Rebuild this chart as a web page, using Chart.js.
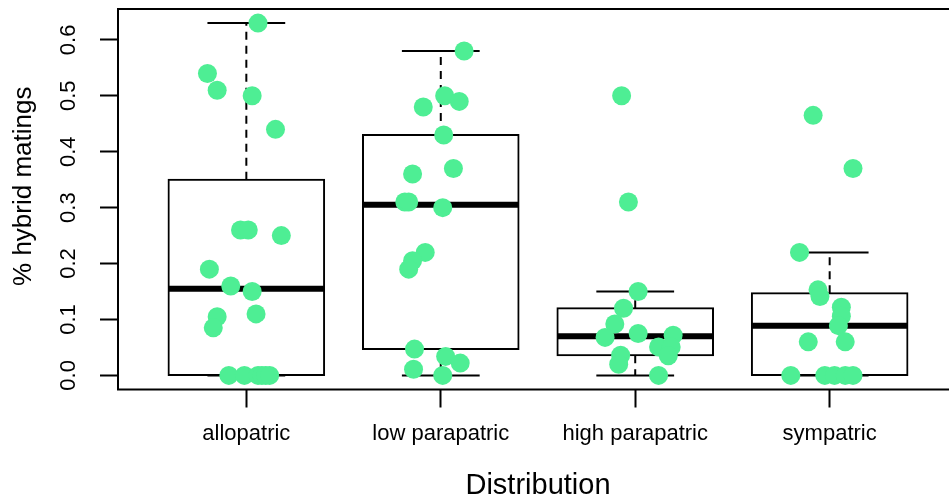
<!DOCTYPE html>
<html>
<head>
<meta charset="utf-8">
<script src="https://cdn.jsdelivr.net/npm/chart.js@4.4.1/dist/chart.umd.min.js"></script>
<style>
  html, body { margin: 0; padding: 0; background: #fff; overflow: hidden; }
  canvas { display: block; }
</style>
</head>
<body>
<canvas id="matingChart" width="960" height="502" style="width:960px;height:502px"></canvas>
<script>
// groups along the x axis
const groups = ['allopatric', 'low parapatric', 'high parapatric', 'sympatric'];

// proportion of hybrid matings per population, one array per group
const allopatric = [0.63, 0.54, 0.51, 0.50, 0.44, 0.26, 0.26, 0.25, 0.19, 0.16,
                    0.15, 0.11, 0.105, 0.085, 0, 0, 0, 0, 0, 0];
const lowParapatric = [0.58, 0.50, 0.49, 0.48, 0.43, 0.37, 0.36, 0.31, 0.31, 0.30,
                       0.22, 0.205, 0.19, 0.047, 0.034, 0.022, 0.011, 0];
const highParapatric = [0.50, 0.31, 0.15, 0.12, 0.092, 0.075, 0.072, 0.068, 0.051, 0.051,
                        0.035, 0.036, 0.020, 0];
const sympatric = [0.465, 0.37, 0.22, 0.153, 0.141, 0.122, 0.106, 0.089, 0.06, 0.06,
                   0, 0, 0, 0, 0];

// horizontal jitter of each point, in group units
const allopatricJitter = [0.06, -0.20, -0.15, 0.03, 0.15, -0.03, 0.01, 0.18, -0.19, -0.08,
                          0.03, 0.05, -0.15, -0.17, -0.09, -0.01, 0.06, 0.08, 0.10, 0.12];
const lowParapatricJitter = [0.12, 0.02, 0.095, -0.09, 0.015, 0.065, -0.145, -0.185, -0.165, 0.01,
                             -0.08, -0.145, -0.165, -0.135, 0.025, 0.10, -0.14, 0.01];
const highParapatricJitter = [-0.07, -0.035, 0.015, -0.06, -0.105, 0.015, 0.195, -0.155, 0.12, 0.185,
                              0.17, -0.075, -0.085, 0.12];
const sympatricJitter = [-0.085, 0.12, -0.155, -0.06, -0.05, 0.06, 0.06, 0.045, -0.11, 0.08,
                         -0.20, -0.025, 0.025, 0.08, 0.12];

const yTicks = [0, 0.1, 0.2, 0.3, 0.4, 0.5, 0.6];
const xTitle = 'Distribution';
const yTitle = '% hybrid matings';

const groupValues = [allopatric, lowParapatric, highParapatric, sympatric];
const groupJitter = [allopatricJitter, lowParapatricJitter, highParapatricJitter, sympatricJitter];

const FONT = '"Liberation Sans", Arial, sans-serif';
const POINT_COLOR = '#4EEE94';

// Tukey hinges, same as R's fivenum()
function fivenum(values) {
    const x = [...values].sort((a, b) => a - b);
    const n = x.length;
    const n4 = Math.floor((n + 3) / 2) / 2;
    const d = [1, n4, (n + 1) / 2, n + 1 - n4, n];
    return d.map(k => 0.5 * (x[Math.floor(k) - 1] + x[Math.ceil(k) - 1]));
}

function boxStats(values) {
    const [, q1, med, q3] = fivenum(values);
    const reach = 1.5 * (q3 - q1);
    const inside = values.filter(v => v >= q1 - reach && v <= q3 + reach);
    return { q1, med, q3, low: Math.min(...inside), high: Math.max(...inside) };
}

const stats = groupValues.map(boxStats);

const boxData = stats.map((s, i) => ({ x: i + 1, y: [s.q1, s.q3] }));
const medianData = [];
const whiskerData = [];
const stapleData = [];
stats.forEach((s, i) => {
    const c = i + 1;
    medianData.push({ x: c - 0.4, y: s.med }, { x: c + 0.4, y: s.med }, { x: c, y: null });
    whiskerData.push({ x: c, y: s.q3 }, { x: c, y: s.high }, { x: c, y: null },
                     { x: c, y: s.q1 }, { x: c, y: s.low }, { x: c, y: null });
    stapleData.push({ x: c - 0.2, y: s.high }, { x: c + 0.2, y: s.high }, { x: c, y: null },
                    { x: c - 0.2, y: s.low }, { x: c + 0.2, y: s.low }, { x: c, y: null });
});
const pointData = groupValues.flatMap((vals, i) =>
    vals.map((v, j) => ({ x: i + 1 + groupJitter[i][j], y: v })));

// axis limits padded by 4% like base R graphics
const yLo = Math.min(...stats.map(s => s.low));
const yHi = Math.max(...stats.map(s => s.high));
const yPad = 0.04 * (yHi - yLo);
const xPad = 0.04 * groups.length;

// box around the plot region plus the two axis titles
const frameAndTitles = {
    id: 'frameAndTitles',
    afterDraw(chart) {
        const { ctx, chartArea } = chart;
        ctx.save();
        ctx.strokeStyle = '#000';
        ctx.lineWidth = 2;
        ctx.strokeRect(chartArea.left, chartArea.top,
                       chartArea.right - chartArea.left, chartArea.bottom - chartArea.top);

        ctx.fillStyle = '#000';
        ctx.textAlign = 'center';
        ctx.textBaseline = 'alphabetic';
        ctx.font = '29px ' + FONT;
        ctx.fillText(xTitle, (chartArea.left + chartArea.right) / 2, chartArea.bottom + 104);

        ctx.font = '26px ' + FONT;
        ctx.translate(31, (chartArea.top + chartArea.bottom) / 2 - 13);
        ctx.rotate(-Math.PI / 2);
        ctx.fillText(yTitle, 0, 0);
        ctx.restore();
    }
};

const ctx = document.getElementById('matingChart').getContext('2d');
const matingChart = new Chart(ctx, {
    type: 'scatter',
    data: {
        datasets: [
            {
                type: 'scatter',
                data: pointData,
                backgroundColor: POINT_COLOR,
                borderWidth: 0,
                pointRadius: 9.5,
                pointHoverRadius: 9.5,
                order: 0,
            },
            {
                type: 'line',
                data: medianData,
                borderColor: '#000',
                borderWidth: 6,
                borderCapStyle: 'butt',
                pointRadius: 0,
                spanGaps: false,
                order: 1,
            },
            {
                type: 'line',
                data: whiskerData,
                borderColor: '#000',
                borderWidth: 2,
                borderDash: [8, 6],
                pointRadius: 0,
                spanGaps: false,
                order: 1,
            },
            {
                type: 'line',
                data: stapleData,
                borderColor: '#000',
                borderWidth: 2,
                pointRadius: 0,
                spanGaps: false,
                order: 1,
            },
            {
                type: 'bar',
                data: boxData,
                backgroundColor: '#fff',
                borderColor: '#000',
                borderWidth: 2,
                borderSkipped: false,
                inflateAmount: 1,
                categoryPercentage: 1,
                barPercentage: 0.8,
                order: 2,
            },
        ],
    },
    options: {
        responsive: false,
        animation: false,
        events: [],
        layout: { autoPadding: false, padding: { top: 9, right: 2, left: 0, bottom: 0 } },
        plugins: {
            legend: { display: false },
            tooltip: { enabled: false },
        },
        scales: {
            x: {
                type: 'linear',
                min: 0.5 - xPad,
                max: groups.length + 0.5 + xPad,
                offset: false,
                afterBuildTicks: scale => {
                    scale.ticks = groups.map((g, i) => ({ value: i + 1 }));
                },
                afterFit: scale => {
                    scale.height = 112.5;
                    scale.paddingLeft = 0;
                    scale.paddingRight = 0;
                },
                border: { display: false },
                grid: {
                    offset: false,
                    drawOnChartArea: false,
                    tickLength: 18,
                    tickColor: '#000',
                    tickWidth: 2,
                },
                ticks: {
                    autoSkip: false,
                    maxRotation: 0,
                    padding: 13,
                    color: '#000',
                    font: { family: FONT, size: 22 },
                    callback: value => groups[value - 1],
                },
            },
            y: {
                type: 'linear',
                min: yLo - yPad,
                max: yHi + yPad,
                afterBuildTicks: scale => {
                    scale.ticks = yTicks.map(v => ({ value: v }));
                },
                afterFit: scale => {
                    scale.width = 118;
                    scale.paddingTop = 0;
                    scale.paddingBottom = 0;
                },
                border: { display: false },
                grid: {
                    offset: false,
                    drawOnChartArea: false,
                    tickLength: 18,
                    tickColor: '#000',
                    tickWidth: 2,
                },
                ticks: {
                    minRotation: 90,
                    maxRotation: 90,
                    crossAlign: 'center',
                    padding: 16,
                    color: '#000',
                    font: { family: FONT, size: 22 },
                    callback: value => value.toFixed(1),
                },
            },
        },
    },
    plugins: [frameAndTitles],
});
</script>
</body>
</html>
